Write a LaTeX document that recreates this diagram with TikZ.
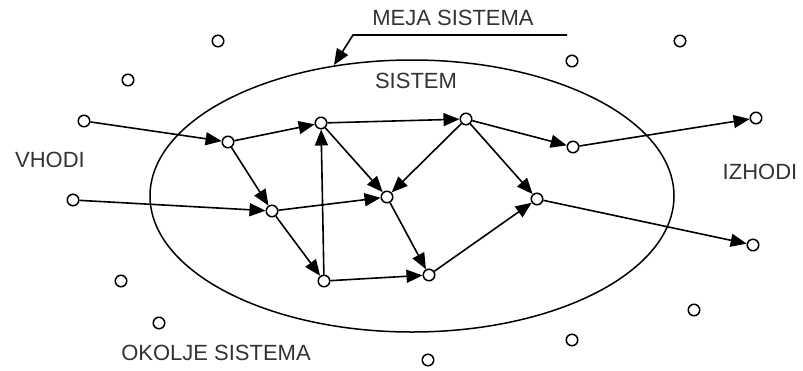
\documentclass[tikz,border=0pt]{standalone}
\usepackage{fontspec}
\setmainfont{Liberation Sans}
\usetikzlibrary{arrows.meta}
\begin{document}
\begin{tikzpicture}[x=1pt,y=-1pt,
  pt/.style={circle,draw,line width=1.5pt,fill=white,inner sep=0pt,minimum width=10pt,minimum height=11.5pt},
  flow/.style={line width=1.6pt,-{Triangle[length=16pt,width=13pt]}},
  lbl/.style={font=\fontsize{22}{22}\selectfont,text=black!80,inner sep=0pt}]
\useasboundingbox (0,0) rectangle (803,370);
% system boundary
\draw[line width=1.5pt] (412,196) ellipse [x radius=262pt, y radius=136pt];
% labels
\node[lbl] (meja) at (453,18) {MEJA SISTEMA};
\node[lbl] (sistem) at (416,81) {SISTEM};
\node[lbl] (vhodi) at (50,160) {VHODI};
\node[lbl] (izhodi) at (760,172) {IZHODI};
\node[lbl] (okolje) at (216,353) {OKOLJE SISTEMA};
\coordinate (ul) at (567,35);
\coordinate (uk) at (353,35);
\coordinate (utip) at (334,65);
\draw[line width=1.6pt,-{Triangle[length=16pt,width=13pt]}] (ul) -- (uk) -- (utip);
% nodes
\node[pt] (in1) at (84,121) {};
\node[pt] (in2) at (73,200) {};
\node[pt] (A) at (228,142) {};
\node[pt] (B) at (321,123) {};
\node[pt] (C) at (466,119) {};
\node[pt] (D) at (573,147) {};
\node[pt] (out1) at (756,118) {};
\node[pt] (E) at (272,211) {};
\node[pt] (F) at (387,197) {};
\node[pt] (G) at (537,199) {};
\node[pt] (out2) at (753,245) {};
\node[pt] (H) at (324,281) {};
\node[pt] (I) at (429,275) {};
% environment points
\node[pt] (e1) at (218,41) {};
\node[pt] (e2) at (128,80) {};
\node[pt] (e3) at (572,61) {};
\node[pt] (e4) at (680,41) {};
\node[pt] (e5) at (121,281) {};
\node[pt] (e6) at (159,323) {};
\node[pt] (e7) at (572,340) {};
\node[pt] (e8) at (694,310) {};
\node[pt] (e9) at (428,360) {};
% flows
\draw[flow] (in1) -- (A);
\draw[flow] (A) -- (B);
\draw[flow] (B) -- (C);
\draw[flow] (C) -- (D);
\draw[flow] (D) -- (out1);
\draw[flow] (A) -- (E);
\draw[flow] (in2) -- (E);
\draw[flow] (E) -- (F);
\draw[flow] (E) -- (H);
\draw[flow] (H) -- (B);
\draw[flow] (B) -- (F);
\draw[flow] (C) -- (F);
\draw[flow] (C) -- (G);
\draw[flow] (F) -- (I);
\draw[flow] (H) -- (I);
\draw[flow] (I) -- (G);
\draw[flow] (G) -- (out2);
\end{tikzpicture}
\end{document}
